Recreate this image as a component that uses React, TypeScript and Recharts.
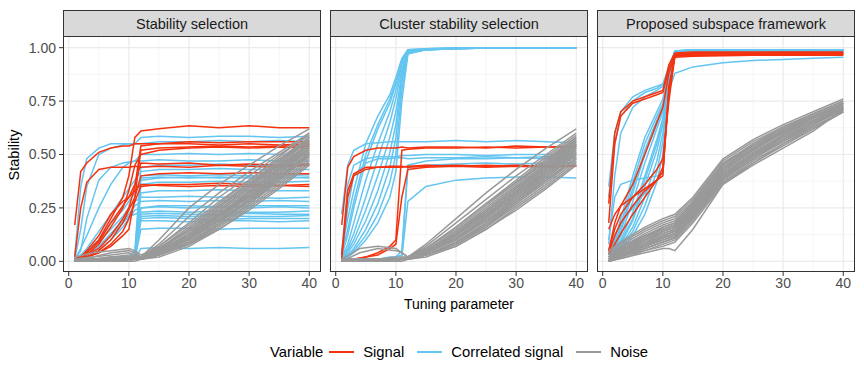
import React from "react";
import { LineChart, Line, XAxis, YAxis, CartesianGrid } from "recharts";

const SIGNAL_X = [1, 2, 3, 5, 7, 9, 10, 11, 12, 15, 20, 25, 30, 35, 40];
const NOISE_X = [1, 4, 7, 10, 11, 12, 15, 20, 25, 30, 35, 40];

const X_TICKS = [0, 10, 20, 30, 40];
const X_MINOR = [5, 15, 25, 35];
const Y_TICKS = [0, 0.25, 0.5, 0.75, 1];
const Y_MINOR = [0.125, 0.375, 0.625, 0.875];

const PANEL_TITLES = ["Stability selection", "Cluster stability selection", "Proposed subspace framework"];
const LEGEND_LABELS = ["Signal", "Correlated signal", "Noise"];
const COLORS = ["#F4320F", "#63C5F0", "#999999"];

// Stability selection
const stabilitySignal = [
  [0.17, 0.42, 0.46, 0.51, 0.53, 0.54, 0.54, 0.55, 0.55, 0.55, 0.55, 0.545, 0.55, 0.545, 0.55],
  [0.02, 0.25, 0.37, 0.43, 0.44, 0.44, 0.44, 0.445, 0.44, 0.445, 0.44, 0.45, 0.445, 0.44, 0.45],
  [0.01, 0.02, 0.04, 0.1, 0.2, 0.3, 0.4, 0.58, 0.61, 0.62, 0.635, 0.625, 0.635, 0.625, 0.625],
  [0.0, 0.01, 0.03, 0.08, 0.16, 0.25, 0.33, 0.45, 0.5, 0.52, 0.53, 0.535, 0.53, 0.535, 0.53],
  [0.01, 0.02, 0.03, 0.06, 0.12, 0.2, 0.25, 0.35, 0.54, 0.55, 0.56, 0.555, 0.56, 0.56, 0.56],
  [0.0, 0.01, 0.02, 0.05, 0.1, 0.18, 0.24, 0.3, 0.4, 0.41, 0.415, 0.41, 0.415, 0.41, 0.41],
  [0.0, 0.01, 0.02, 0.04, 0.08, 0.14, 0.2, 0.28, 0.35, 0.36, 0.36, 0.365, 0.36, 0.355, 0.36],
  [0.01, 0.02, 0.04, 0.09, 0.18, 0.26, 0.3, 0.33, 0.36, 0.355, 0.35, 0.355, 0.35, 0.355, 0.35],
  [0.0, 0.02, 0.05, 0.12, 0.22, 0.28, 0.3, 0.36, 0.46, 0.455, 0.46, 0.45, 0.455, 0.45, 0.455],
  [0.01, 0.01, 0.02, 0.04, 0.07, 0.12, 0.15, 0.3, 0.52, 0.53, 0.535, 0.54, 0.535, 0.54, 0.54],
];

const stabilityCorrelated = [
  [0.02, 0.35, 0.48, 0.53, 0.55, 0.55, 0.55, 0.55, 0.55, 0.56, 0.56, 0.565, 0.56, 0.565, 0.56],
  [0.01, 0.15, 0.35, 0.5, 0.53, 0.545, 0.55, 0.55, 0.58, 0.585, 0.58, 0.585, 0.585, 0.58, 0.585],
  [0.01, 0.05, 0.2, 0.38, 0.44, 0.46, 0.465, 0.47, 0.5, 0.5, 0.505, 0.5, 0.505, 0.5, 0.5],
  [0.01, 0.06, 0.12, 0.25, 0.36, 0.44, 0.46, 0.47, 0.47, 0.475, 0.47, 0.47, 0.475, 0.47, 0.47],
  [0.01, 0.03, 0.06, 0.14, 0.22, 0.3, 0.34, 0.38, 0.42, 0.43, 0.43, 0.435, 0.43, 0.43, 0.43],
  [0.0, 0.02, 0.05, 0.1, 0.18, 0.24, 0.28, 0.32, 0.38, 0.39, 0.395, 0.39, 0.395, 0.39, 0.395],
  [0.0, 0.02, 0.04, 0.09, 0.15, 0.21, 0.25, 0.28, 0.3, 0.3, 0.305, 0.3, 0.3, 0.295, 0.3],
  [0.0, 0.01, 0.03, 0.07, 0.13, 0.19, 0.22, 0.26, 0.28, 0.285, 0.28, 0.285, 0.28, 0.285, 0.28],
  [0.0, 0.01, 0.02, 0.05, 0.1, 0.16, 0.2, 0.24, 0.25, 0.255, 0.25, 0.255, 0.25, 0.255, 0.25],
  [0.01, 0.02, 0.03, 0.06, 0.12, 0.18, 0.21, 0.22, 0.23, 0.235, 0.23, 0.235, 0.23, 0.23, 0.235],
  [0.0, 0.0, 0.01, 0.01, 0.01, 0.01, 0.01, 0.02, 0.21, 0.215, 0.21, 0.215, 0.21, 0.21, 0.215],
  [0.0, 0.0, 0.0, 0.01, 0.01, 0.01, 0.01, 0.01, 0.2, 0.205, 0.2, 0.195, 0.2, 0.2, 0.2],
  [0.01, 0.01, 0.01, 0.01, 0.01, 0.01, 0.02, 0.03, 0.19, 0.19, 0.185, 0.19, 0.19, 0.185, 0.19],
  [0.0, 0.0, 0.0, 0.0, 0.01, 0.01, 0.01, 0.01, 0.15, 0.155, 0.155, 0.15, 0.155, 0.155, 0.155],
  [0.0, 0.0, 0.0, 0.0, 0.0, 0.0, 0.01, 0.01, 0.06, 0.065, 0.06, 0.065, 0.06, 0.06, 0.065],
  [0.0, 0.01, 0.01, 0.01, 0.01, 0.01, 0.01, 0.02, 0.25, 0.26, 0.26, 0.255, 0.26, 0.26, 0.26],
  [0.0, 0.0, 0.01, 0.01, 0.01, 0.01, 0.02, 0.02, 0.36, 0.37, 0.37, 0.375, 0.37, 0.37, 0.375],
  [0.0, 0.0, 0.0, 0.01, 0.01, 0.01, 0.01, 0.02, 0.39, 0.395, 0.39, 0.395, 0.39, 0.395, 0.39],
  [0.01, 0.01, 0.01, 0.01, 0.02, 0.02, 0.02, 0.05, 0.44, 0.45, 0.45, 0.455, 0.45, 0.45, 0.455],
  [0.0, 0.0, 0.01, 0.01, 0.01, 0.01, 0.01, 0.02, 0.32, 0.33, 0.33, 0.335, 0.33, 0.33, 0.33],
  [0.0, 0.0, 0.0, 0.0, 0.01, 0.01, 0.01, 0.01, 0.22, 0.225, 0.22, 0.22, 0.225, 0.22, 0.22],
  [0.0, 0.01, 0.01, 0.01, 0.01, 0.01, 0.02, 0.03, 0.4, 0.405, 0.4, 0.405, 0.4, 0.4, 0.405],
];

const stabilityNoise = [
  [0.0, 0.01, 0.01, 0.01, 0.01, 0.02, 0.1, 0.25, 0.36, 0.45, 0.54, 0.62],
  [0.0, 0.0, 0.01, 0.01, 0.01, 0.02, 0.08, 0.21, 0.32, 0.42, 0.51, 0.6],
  [0.01, 0.02, 0.04, 0.05, 0.04, 0.02, 0.07, 0.18, 0.3, 0.4, 0.5, 0.59],
  [0.0, 0.01, 0.01, 0.01, 0.02, 0.02, 0.06, 0.16, 0.27, 0.38, 0.48, 0.58],
  [0.0, 0.0, 0.01, 0.01, 0.01, 0.01, 0.05, 0.15, 0.26, 0.37, 0.47, 0.57],
  [0.02, 0.04, 0.05, 0.06, 0.05, 0.03, 0.06, 0.14, 0.25, 0.36, 0.46, 0.56],
  [0.0, 0.01, 0.01, 0.01, 0.01, 0.02, 0.05, 0.13, 0.24, 0.35, 0.45, 0.55],
  [0.0, 0.0, 0.0, 0.01, 0.01, 0.01, 0.04, 0.12, 0.23, 0.34, 0.45, 0.55],
  [0.01, 0.01, 0.02, 0.02, 0.02, 0.02, 0.05, 0.13, 0.22, 0.33, 0.44, 0.54],
  [0.0, 0.01, 0.01, 0.01, 0.01, 0.01, 0.04, 0.11, 0.21, 0.32, 0.43, 0.53],
  [0.0, 0.0, 0.01, 0.01, 0.01, 0.02, 0.04, 0.11, 0.22, 0.31, 0.42, 0.53],
  [0.0, 0.01, 0.02, 0.03, 0.03, 0.02, 0.05, 0.12, 0.21, 0.31, 0.41, 0.52],
  [0.0, 0.0, 0.0, 0.0, 0.01, 0.01, 0.04, 0.1, 0.2, 0.3, 0.41, 0.52],
  [0.01, 0.01, 0.01, 0.01, 0.01, 0.02, 0.04, 0.1, 0.19, 0.29, 0.4, 0.51],
  [0.0, 0.0, 0.01, 0.01, 0.01, 0.01, 0.03, 0.09, 0.18, 0.29, 0.39, 0.5],
  [0.0, 0.01, 0.01, 0.01, 0.01, 0.02, 0.04, 0.1, 0.19, 0.28, 0.38, 0.5],
  [0.0, 0.0, 0.0, 0.01, 0.01, 0.01, 0.03, 0.09, 0.17, 0.27, 0.38, 0.49],
  [0.0, 0.01, 0.01, 0.01, 0.01, 0.01, 0.03, 0.08, 0.17, 0.27, 0.37, 0.48],
  [0.01, 0.01, 0.01, 0.02, 0.02, 0.02, 0.03, 0.08, 0.16, 0.26, 0.36, 0.47],
  [0.0, 0.0, 0.01, 0.01, 0.01, 0.01, 0.03, 0.08, 0.15, 0.25, 0.35, 0.46],
  [0.0, 0.0, 0.0, 0.0, 0.0, 0.01, 0.02, 0.07, 0.15, 0.24, 0.34, 0.45],
  [0.0, 0.01, 0.01, 0.01, 0.01, 0.01, 0.03, 0.09, 0.18, 0.28, 0.39, 0.51],
  [0.0, 0.0, 0.01, 0.01, 0.01, 0.02, 0.05, 0.12, 0.22, 0.33, 0.44, 0.55],
  [0.0, 0.0, 0.0, 0.01, 0.01, 0.01, 0.04, 0.11, 0.2, 0.31, 0.42, 0.52],
  [0.01, 0.02, 0.03, 0.04, 0.03, 0.02, 0.06, 0.14, 0.24, 0.35, 0.46, 0.57],
  [0.0, 0.01, 0.01, 0.01, 0.01, 0.01, 0.04, 0.12, 0.22, 0.32, 0.43, 0.54],
  [0.0, 0.0, 0.01, 0.01, 0.01, 0.02, 0.06, 0.15, 0.26, 0.36, 0.47, 0.58],
  [0.0, 0.0, 0.0, 0.01, 0.01, 0.01, 0.03, 0.1, 0.19, 0.29, 0.4, 0.5],
  [0.0, 0.01, 0.01, 0.01, 0.01, 0.02, 0.07, 0.17, 0.28, 0.38, 0.49, 0.6],
  [0.0, 0.0, 0.01, 0.01, 0.01, 0.01, 0.04, 0.11, 0.21, 0.3, 0.4, 0.49],
];

// Cluster stability selection
const clusterSignal = [
  [0.17, 0.44, 0.49, 0.52, 0.53, 0.53, 0.53, 0.535, 0.53, 0.535, 0.535, 0.53, 0.54, 0.535, 0.54],
  [0.03, 0.33, 0.41, 0.44, 0.44, 0.445, 0.445, 0.445, 0.44, 0.445, 0.45, 0.445, 0.45, 0.445, 0.45],
  [0.0, 0.01, 0.01, 0.02, 0.04, 0.07, 0.1, 0.52, 0.525, 0.53, 0.53, 0.535, 0.53, 0.535, 0.535],
  [0.0, 0.0, 0.01, 0.02, 0.03, 0.06, 0.08, 0.3, 0.43, 0.44, 0.445, 0.44, 0.445, 0.44, 0.445],
  [0.01, 0.3, 0.4, 0.43, 0.44, 0.44, 0.44, 0.44, 0.445, 0.45, 0.445, 0.45, 0.445, 0.45, 0.445],
];

const clusterCorrelated = [
  [0.05, 0.2, 0.33, 0.55, 0.68, 0.78, 0.86, 0.95, 0.99, 0.995, 0.998, 1, 1, 1, 1],
  [0.03, 0.12, 0.25, 0.47, 0.62, 0.74, 0.83, 0.93, 0.985, 0.995, 0.998, 1, 1, 1, 1],
  [0.02, 0.08, 0.18, 0.38, 0.55, 0.7, 0.8, 0.92, 0.985, 0.993, 0.997, 1, 1, 1, 1],
  [0.02, 0.06, 0.13, 0.3, 0.48, 0.65, 0.76, 0.9, 0.98, 0.99, 0.997, 1, 1, 1, 1],
  [0.01, 0.05, 0.1, 0.24, 0.4, 0.58, 0.7, 0.88, 0.98, 0.99, 0.996, 0.998, 1, 1, 1],
  [0.01, 0.04, 0.08, 0.19, 0.33, 0.51, 0.64, 0.86, 0.98, 0.99, 0.995, 0.998, 1, 1, 1],
  [0.01, 0.03, 0.06, 0.15, 0.27, 0.44, 0.58, 0.84, 0.975, 0.99, 0.995, 0.998, 1, 1, 1],
  [0.01, 0.02, 0.05, 0.12, 0.22, 0.37, 0.5, 0.8, 0.975, 0.99, 0.995, 0.998, 1, 1, 1],
  [0.0, 0.02, 0.04, 0.1, 0.18, 0.3, 0.42, 0.75, 0.97, 0.99, 0.995, 0.998, 1, 1, 1],
  [0.03, 0.15, 0.28, 0.5, 0.64, 0.76, 0.84, 0.94, 0.99, 0.995, 0.998, 1, 1, 1, 1],
  [0.22, 0.45, 0.52, 0.55, 0.555, 0.56, 0.56, 0.56, 0.56, 0.56, 0.565, 0.56, 0.565, 0.56, 0.555],
  [0.04, 0.36, 0.45, 0.48, 0.49, 0.49, 0.49, 0.495, 0.495, 0.5, 0.5, 0.495, 0.5, 0.5, 0.5],
  [0.02, 0.25, 0.4, 0.46, 0.48, 0.48, 0.485, 0.485, 0.48, 0.485, 0.485, 0.49, 0.485, 0.49, 0.485],
  [0.0, 0.0, 0.01, 0.01, 0.01, 0.01, 0.02, 0.05, 0.45, 0.47, 0.48, 0.48, 0.485, 0.48, 0.485],
  [0.0, 0.0, 0.01, 0.01, 0.01, 0.01, 0.01, 0.02, 0.28, 0.35, 0.38, 0.39, 0.395, 0.395, 0.39],
  [0.0, 0.01, 0.01, 0.01, 0.01, 0.02, 0.02, 0.03, 0.44, 0.45, 0.455, 0.46, 0.455, 0.46, 0.46],
];

const clusterNoise = [
  [0.01, 0.06, 0.07, 0.06, 0.04, 0.02, 0.08, 0.2, 0.32, 0.43, 0.53, 0.62],
  [0.0, 0.04, 0.06, 0.05, 0.04, 0.02, 0.07, 0.18, 0.29, 0.4, 0.5, 0.6],
  [0.0, 0.01, 0.01, 0.01, 0.01, 0.02, 0.06, 0.16, 0.27, 0.38, 0.49, 0.59],
  [0.0, 0.0, 0.01, 0.01, 0.01, 0.01, 0.05, 0.14, 0.25, 0.36, 0.47, 0.58],
  [0.01, 0.01, 0.01, 0.01, 0.01, 0.02, 0.05, 0.13, 0.24, 0.35, 0.46, 0.57],
  [0.0, 0.0, 0.0, 0.01, 0.01, 0.01, 0.04, 0.12, 0.23, 0.34, 0.45, 0.56],
  [0.0, 0.01, 0.01, 0.01, 0.01, 0.01, 0.05, 0.13, 0.22, 0.33, 0.44, 0.55],
  [0.0, 0.0, 0.01, 0.01, 0.01, 0.01, 0.04, 0.11, 0.21, 0.32, 0.43, 0.54],
  [0.0, 0.0, 0.0, 0.0, 0.01, 0.01, 0.04, 0.1, 0.2, 0.31, 0.42, 0.53],
  [0.01, 0.01, 0.01, 0.02, 0.02, 0.02, 0.04, 0.1, 0.19, 0.3, 0.41, 0.52],
  [0.0, 0.0, 0.01, 0.01, 0.01, 0.01, 0.03, 0.09, 0.18, 0.29, 0.4, 0.51],
  [0.0, 0.01, 0.01, 0.01, 0.01, 0.01, 0.04, 0.1, 0.19, 0.29, 0.39, 0.5],
  [0.0, 0.0, 0.0, 0.01, 0.01, 0.01, 0.03, 0.08, 0.17, 0.28, 0.38, 0.49],
  [0.0, 0.0, 0.01, 0.01, 0.01, 0.01, 0.03, 0.08, 0.16, 0.27, 0.37, 0.48],
  [0.01, 0.01, 0.01, 0.01, 0.01, 0.02, 0.03, 0.08, 0.16, 0.26, 0.36, 0.47],
  [0.0, 0.0, 0.0, 0.0, 0.0, 0.01, 0.02, 0.07, 0.15, 0.25, 0.35, 0.46],
  [0.0, 0.01, 0.01, 0.01, 0.01, 0.01, 0.03, 0.07, 0.15, 0.24, 0.34, 0.45],
  [0.0, 0.0, 0.01, 0.01, 0.01, 0.02, 0.05, 0.14, 0.24, 0.35, 0.46, 0.56],
  [0.0, 0.0, 0.0, 0.01, 0.01, 0.01, 0.04, 0.12, 0.22, 0.33, 0.45, 0.55],
  [0.01, 0.01, 0.01, 0.01, 0.01, 0.02, 0.06, 0.15, 0.26, 0.37, 0.48, 0.58],
  [0.0, 0.01, 0.01, 0.01, 0.01, 0.01, 0.04, 0.11, 0.2, 0.31, 0.41, 0.51],
  [0.0, 0.0, 0.01, 0.01, 0.01, 0.01, 0.03, 0.09, 0.18, 0.28, 0.39, 0.5],
  [0.0, 0.0, 0.0, 0.01, 0.01, 0.01, 0.04, 0.1, 0.21, 0.32, 0.43, 0.53],
  [0.0, 0.01, 0.01, 0.01, 0.01, 0.01, 0.05, 0.13, 0.23, 0.34, 0.44, 0.54],
  [0.0, 0.0, 0.01, 0.01, 0.01, 0.02, 0.05, 0.12, 0.22, 0.32, 0.42, 0.52],
  [0.0, 0.0, 0.0, 0.0, 0.01, 0.01, 0.03, 0.09, 0.17, 0.27, 0.38, 0.48],
  [0.01, 0.01, 0.01, 0.01, 0.01, 0.02, 0.06, 0.16, 0.27, 0.37, 0.47, 0.57],
  [0.0, 0.0, 0.01, 0.01, 0.01, 0.01, 0.04, 0.11, 0.21, 0.3, 0.4, 0.5],
];

// Proposed subspace framework
const subspaceSignal = [
  [0.18, 0.55, 0.68, 0.74, 0.76, 0.78, 0.79, 0.9, 0.97, 0.975, 0.975, 0.975, 0.975, 0.975, 0.975],
  [0.27, 0.6, 0.7, 0.75, 0.77, 0.79, 0.8, 0.92, 0.975, 0.98, 0.98, 0.98, 0.98, 0.98, 0.98],
  [0.05, 0.15, 0.22, 0.3, 0.36, 0.43, 0.48, 0.75, 0.96, 0.97, 0.97, 0.97, 0.972, 0.972, 0.972],
  [0.04, 0.12, 0.18, 0.26, 0.33, 0.38, 0.42, 0.78, 0.965, 0.97, 0.97, 0.97, 0.97, 0.97, 0.97],
  [0.03, 0.08, 0.13, 0.22, 0.3, 0.38, 0.44, 0.8, 0.965, 0.975, 0.975, 0.975, 0.978, 0.978, 0.978],
  [0.05, 0.18, 0.26, 0.36, 0.5, 0.65, 0.72, 0.88, 0.96, 0.965, 0.965, 0.968, 0.968, 0.97, 0.97],
  [0.15, 0.22, 0.26, 0.3, 0.34, 0.38, 0.4, 0.82, 0.955, 0.96, 0.962, 0.965, 0.965, 0.965, 0.965],
];

const subspaceCorrelated = [
  [0.35, 0.6, 0.7, 0.77, 0.8, 0.82, 0.83, 0.9, 0.985, 0.99, 0.99, 0.99, 0.99, 0.99, 0.99],
  [0.3, 0.55, 0.68, 0.75, 0.79, 0.81, 0.83, 0.91, 0.985, 0.99, 0.99, 0.99, 0.99, 0.99, 0.99],
  [0.1, 0.3, 0.36, 0.38, 0.39, 0.4, 0.41, 0.85, 0.98, 0.99, 0.99, 0.99, 0.99, 0.99, 0.99],
  [0.03, 0.1, 0.2, 0.4, 0.58, 0.7, 0.76, 0.88, 0.98, 0.985, 0.99, 0.99, 0.99, 0.99, 0.99],
  [0.03, 0.08, 0.15, 0.34, 0.52, 0.66, 0.73, 0.87, 0.98, 0.985, 0.99, 0.99, 0.99, 0.99, 0.99],
  [0.02, 0.06, 0.12, 0.28, 0.46, 0.62, 0.7, 0.86, 0.98, 0.985, 0.99, 0.99, 0.99, 0.99, 0.99],
  [0.02, 0.05, 0.1, 0.23, 0.4, 0.57, 0.67, 0.85, 0.975, 0.985, 0.988, 0.99, 0.99, 0.99, 0.99],
  [0.02, 0.04, 0.08, 0.19, 0.35, 0.52, 0.64, 0.85, 0.975, 0.985, 0.988, 0.99, 0.99, 0.99, 0.99],
  [0.01, 0.04, 0.07, 0.16, 0.3, 0.47, 0.6, 0.84, 0.975, 0.985, 0.988, 0.99, 0.99, 0.99, 0.99],
  [0.01, 0.03, 0.06, 0.14, 0.26, 0.42, 0.56, 0.83, 0.97, 0.985, 0.988, 0.99, 0.99, 0.99, 0.99],
  [0.01, 0.03, 0.05, 0.12, 0.22, 0.37, 0.5, 0.82, 0.97, 0.98, 0.985, 0.988, 0.99, 0.99, 0.99],
  [0.03, 0.09, 0.17, 0.37, 0.55, 0.68, 0.74, 0.8, 0.88, 0.91, 0.93, 0.94, 0.945, 0.95, 0.955],
  [0.08, 0.4, 0.6, 0.72, 0.77, 0.8, 0.82, 0.88, 0.98, 0.985, 0.985, 0.985, 0.985, 0.985, 0.985],
  [0.02, 0.07, 0.14, 0.32, 0.5, 0.64, 0.72, 0.86, 0.985, 0.99, 0.99, 0.99, 0.99, 0.99, 0.99],
  [0.05, 0.12, 0.18, 0.25, 0.32, 0.38, 0.42, 0.8, 0.97, 0.98, 0.98, 0.98, 0.98, 0.98, 0.98],
  [0.02, 0.05, 0.09, 0.2, 0.38, 0.55, 0.66, 0.84, 0.975, 0.985, 0.985, 0.985, 0.985, 0.985, 0.985],
];

const subspaceNoise = [
  [0.05, 0.11, 0.16, 0.2, 0.21, 0.22, 0.3, 0.48, 0.57, 0.64, 0.7, 0.76],
  [0.04, 0.1, 0.15, 0.19, 0.2, 0.21, 0.29, 0.47, 0.56, 0.63, 0.69, 0.75],
  [0.03, 0.09, 0.14, 0.18, 0.19, 0.2, 0.28, 0.46, 0.55, 0.63, 0.69, 0.75],
  [0.03, 0.08, 0.13, 0.17, 0.18, 0.19, 0.27, 0.45, 0.55, 0.62, 0.68, 0.74],
  [0.02, 0.08, 0.12, 0.16, 0.17, 0.18, 0.27, 0.44, 0.54, 0.62, 0.68, 0.74],
  [0.02, 0.07, 0.12, 0.15, 0.16, 0.17, 0.26, 0.44, 0.53, 0.61, 0.68, 0.74],
  [0.02, 0.07, 0.11, 0.15, 0.16, 0.17, 0.25, 0.43, 0.53, 0.61, 0.67, 0.73],
  [0.01, 0.06, 0.1, 0.14, 0.15, 0.16, 0.25, 0.42, 0.52, 0.6, 0.67, 0.73],
  [0.01, 0.06, 0.1, 0.13, 0.14, 0.15, 0.24, 0.42, 0.52, 0.6, 0.66, 0.73],
  [0.01, 0.05, 0.09, 0.13, 0.14, 0.15, 0.24, 0.41, 0.51, 0.59, 0.66, 0.72],
  [0.01, 0.05, 0.09, 0.12, 0.13, 0.14, 0.23, 0.41, 0.51, 0.59, 0.66, 0.72],
  [0.01, 0.05, 0.08, 0.12, 0.13, 0.14, 0.23, 0.4, 0.5, 0.58, 0.65, 0.72],
  [0.01, 0.04, 0.08, 0.11, 0.12, 0.13, 0.22, 0.4, 0.5, 0.58, 0.65, 0.72],
  [0.0, 0.04, 0.07, 0.11, 0.12, 0.13, 0.22, 0.39, 0.49, 0.57, 0.65, 0.71],
  [0.0, 0.04, 0.07, 0.1, 0.11, 0.12, 0.21, 0.39, 0.49, 0.57, 0.64, 0.71],
  [0.0, 0.03, 0.07, 0.1, 0.11, 0.12, 0.21, 0.38, 0.48, 0.56, 0.64, 0.71],
  [0.0, 0.03, 0.06, 0.09, 0.1, 0.11, 0.2, 0.38, 0.48, 0.56, 0.63, 0.7],
  [0.0, 0.03, 0.06, 0.09, 0.1, 0.11, 0.2, 0.37, 0.47, 0.55, 0.63, 0.7],
  [0.0, 0.03, 0.05, 0.08, 0.09, 0.1, 0.19, 0.37, 0.46, 0.55, 0.62, 0.7],
  [0.0, 0.02, 0.05, 0.07, 0.08, 0.09, 0.18, 0.36, 0.46, 0.54, 0.62, 0.7],
  [0.0, 0.02, 0.04, 0.06, 0.06, 0.05, 0.15, 0.36, 0.45, 0.53, 0.61, 0.71],
  [0.02, 0.06, 0.11, 0.16, 0.17, 0.18, 0.28, 0.46, 0.54, 0.61, 0.67, 0.74],
  [0.03, 0.08, 0.12, 0.15, 0.16, 0.17, 0.26, 0.45, 0.54, 0.62, 0.69, 0.75],
  [0.01, 0.05, 0.1, 0.14, 0.15, 0.16, 0.24, 0.43, 0.53, 0.6, 0.67, 0.73],
  [0.01, 0.04, 0.08, 0.12, 0.13, 0.15, 0.23, 0.41, 0.5, 0.59, 0.66, 0.72],
  [0.0, 0.04, 0.07, 0.11, 0.12, 0.13, 0.22, 0.4, 0.49, 0.58, 0.65, 0.71],
  [0.02, 0.07, 0.11, 0.14, 0.15, 0.16, 0.25, 0.43, 0.52, 0.61, 0.67, 0.74],
  [0.0, 0.03, 0.06, 0.09, 0.1, 0.11, 0.21, 0.39, 0.48, 0.57, 0.64, 0.72],
];

const FONT = '"Liberation Sans", Arial, Helvetica, sans-serif';
const PLOT_W = 258;
const PLOT_H = 235;
const PLOT_TOP = 37;
const AXIS_H = 30;
const Y_AXIS_W = 42;

const toPoints = (xs: number[], ys: number[]) => xs.map((x, i) => ({ x, y: ys[i] }));

interface PanelProps {
  title: string;
  left: number;
  showY: boolean;
  signal: number[][];
  correlated: number[][];
  noise: number[][];
}

function Panel({ title, left, showY, signal, correlated, noise }: PanelProps) {
  const yw = showY ? Y_AXIS_W : 0;
  const drawLine = (xs: number[], ys: number[], color: string, key: string) => (
    <Line
      key={key}
      data={toPoints(xs, ys)}
      dataKey="y"
      type="linear"
      stroke={color}
      strokeWidth={1.5}
      dot={false}
      activeDot={false}
      isAnimationActive={false}
    />
  );
  return (
    <>
      <div
        style={{
          position: "absolute",
          left,
          top: 10,
          width: PLOT_W,
          height: 27,
          boxSizing: "border-box",
          background: "#D9D9D9",
          border: "1px solid #333333",
          display: "flex",
          alignItems: "center",
          justifyContent: "center",
          fontSize: 14.5,
          color: "#1A1A1A",
        }}
      >
        {title}
      </div>
      <div style={{ position: "absolute", left: left - yw, top: PLOT_TOP }}>
        <LineChart width={PLOT_W + yw} height={PLOT_H + AXIS_H} margin={{ top: 0, right: 0, bottom: 0, left: 0 }}>
          <CartesianGrid verticalValues={X_MINOR} horizontalValues={Y_MINOR} stroke="#EFEFEF" strokeWidth={0.6} />
          <CartesianGrid verticalValues={X_TICKS} horizontalValues={Y_TICKS} stroke="#EBEBEB" strokeWidth={1.2} />
          <XAxis
            dataKey="x"
            type="number"
            domain={[-0.95, 41.95]}
            allowDataOverflow
            ticks={X_TICKS}
            height={AXIS_H}
            axisLine={false}
            tickLine={{ stroke: "#333333" }}
            tickSize={4}
            tickMargin={2}
            tick={{ fill: "#4D4D4D", fontSize: 14, fontFamily: FONT }}
          />
          <YAxis
            type="number"
            domain={[-0.05, 1.05]}
            allowDataOverflow
            ticks={Y_TICKS}
            hide={!showY}
            width={yw}
            axisLine={false}
            tickLine={{ stroke: "#333333" }}
            tickSize={4}
            tickMargin={3}
            tickFormatter={(v: number) => v.toFixed(2)}
            tick={{ fill: "#4D4D4D", fontSize: 14, fontFamily: FONT }}
          />
          {correlated.map((ys, i) => drawLine(SIGNAL_X, ys, COLORS[1], `c${i}`))}
          {signal.map((ys, i) => drawLine(SIGNAL_X, ys, COLORS[0], `s${i}`))}
          {noise.map((ys, i) => drawLine(NOISE_X, ys, COLORS[2], `n${i}`))}
        </LineChart>
      </div>
      <div
        style={{
          position: "absolute",
          left,
          top: PLOT_TOP - 1,
          width: PLOT_W,
          height: PLOT_H + 1,
          boxSizing: "border-box",
          border: "1px solid #333333",
          pointerEvents: "none",
        }}
      />
    </>
  );
}

export default function App() {
  const panels = [
    { left: 63, signal: stabilitySignal, correlated: stabilityCorrelated, noise: stabilityNoise },
    { left: 330, signal: clusterSignal, correlated: clusterCorrelated, noise: clusterNoise },
    { left: 597, signal: subspaceSignal, correlated: subspaceCorrelated, noise: subspaceNoise },
  ];
  return (
    <div
      style={{
        position: "absolute",
        left: 0,
        top: 0,
        width: 864,
        height: 384,
        background: "#fff",
        fontFamily: FONT,
        overflow: "hidden",
      }}
    >
      {panels.map((p, i) => (
        <Panel key={i} title={PANEL_TITLES[i]} showY={i === 0} {...p} />
      ))}

      <div
        style={{
          position: "absolute",
          left: 14,
          top: PLOT_TOP + PLOT_H / 2,
          transform: "translate(-50%, -50%) rotate(-90deg)",
          fontSize: 14.5,
          whiteSpace: "nowrap",
        }}
      >
        Stability
      </div>
      <div
        style={{
          position: "absolute",
          left: 459,
          top: 304,
          transform: "translate(-50%, -50%)",
          fontSize: 14,
          whiteSpace: "nowrap",
        }}
      >
        Tuning parameter
      </div>

      <div
        style={{
          position: "absolute",
          left: 270,
          top: 352,
          transform: "translateY(-50%)",
          display: "flex",
          alignItems: "center",
          fontSize: 14.8,
          whiteSpace: "nowrap",
        }}
      >
        <span style={{ marginRight: 6 }}>Variable</span>
        {LEGEND_LABELS.map((label, i) => (
          <span key={label} style={{ display: "flex", alignItems: "center", marginRight: 13 }}>
            <span style={{ display: "inline-block", width: 25, height: 2, background: COLORS[i], margin: "0 9px 0 0" }} />
            {label}
          </span>
        ))}
      </div>
    </div>
  );
}
